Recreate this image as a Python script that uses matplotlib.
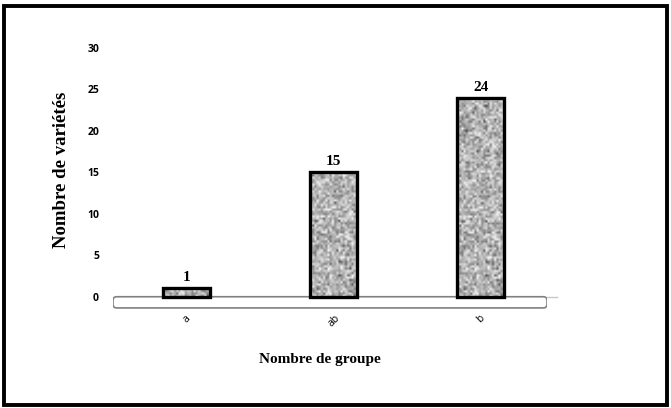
import numpy as np
import matplotlib
matplotlib.use("Agg")
import matplotlib.pyplot as plt
from matplotlib.patches import FancyBboxPatch, Rectangle

groups = ["a", "ab", "b"]
counts = [1, 15, 24]
yticks = [0, 5, 10, 15, 20, 25, 30]

W, H = 671, 408
fig = plt.figure(figsize=(W / 100, H / 100), dpi=100)
fig.patch.set_facecolor("white")

# outer frame
fig.patches.append(Rectangle((0.006, 0.008), 0.988, 0.978, transform=fig.transFigure,
                             fill=False, edgecolor="black", linewidth=2.8))

ax = fig.add_axes([113 / W, 1 - 310 / H, 434 / W, (310 - 48) / H])
for s in ax.spines.values():
    s.set_visible(False)

x = np.arange(len(groups))

# floor under the bars
px_per_x = 434 / 2.95
px_per_y = 262 / 31.6
floor = FancyBboxPatch((-0.5, -1.35), 2.95, 1.35,
                       boxstyle="round,pad=0,rounding_size=0.025",
                       mutation_aspect=px_per_x / px_per_y,
                       facecolor="white", edgecolor="#808080", linewidth=1.2, zorder=1)
ax.add_patch(floor)
ax.plot([2.45, 2.52], [0, 0], color="#c8c8c8", lw=1, clip_on=False, zorder=1)

bars = ax.bar(x, counts, width=0.32, facecolor="none", edgecolor="black",
              linewidth=2.4, zorder=3)

# speckled grey fill for the bars
rng = np.random.default_rng(3)
tex = rng.normal(0.7, 0.14, (110, 22))
tex = np.clip(tex, 0.25, 0.95)
for b in bars:
    bx = b.get_x()
    im = ax.imshow(tex, cmap="gray", vmin=0, vmax=1, aspect="auto",
                   extent=(bx, bx + b.get_width(), 0, 30), zorder=2,
                   interpolation="bilinear")
    im.set_clip_path(b)

ax.set_xlim(-0.5, 2.45)
ax.set_ylim(-1.6, 30)

for xi, v in zip(x, counts):
    ax.annotate(str(v), (xi, v), xytext=(0, 3), textcoords="offset points",
                ha="center", va="bottom", fontsize=11, fontweight="bold",
                family="Liberation Serif")

ax.set_yticks(yticks)
ax.set_yticklabels([str(t) for t in yticks], fontsize=7.5, family="Open Sans",
                   fontweight="bold")
ax.tick_params(axis="y", length=0, pad=10)
ax.set_xticks(x)
ax.set_xticklabels(groups, rotation=45, fontsize=7.5, family="Open Sans",
                   ha="center", va="top")
ax.tick_params(axis="x", length=0, pad=2)

fig.text(62 / W, 1 - 170 / H, "Nombre de variétés", rotation=90, ha="center",
         va="center", fontsize=13.5, fontweight="bold", family="Liberation Serif")
fig.text(320 / W, 1 - 360 / H, "Nombre de groupe", ha="center", va="center",
         fontsize=11, fontweight="bold", family="Liberation Serif")

fig.savefig("out.png", dpi=100)
